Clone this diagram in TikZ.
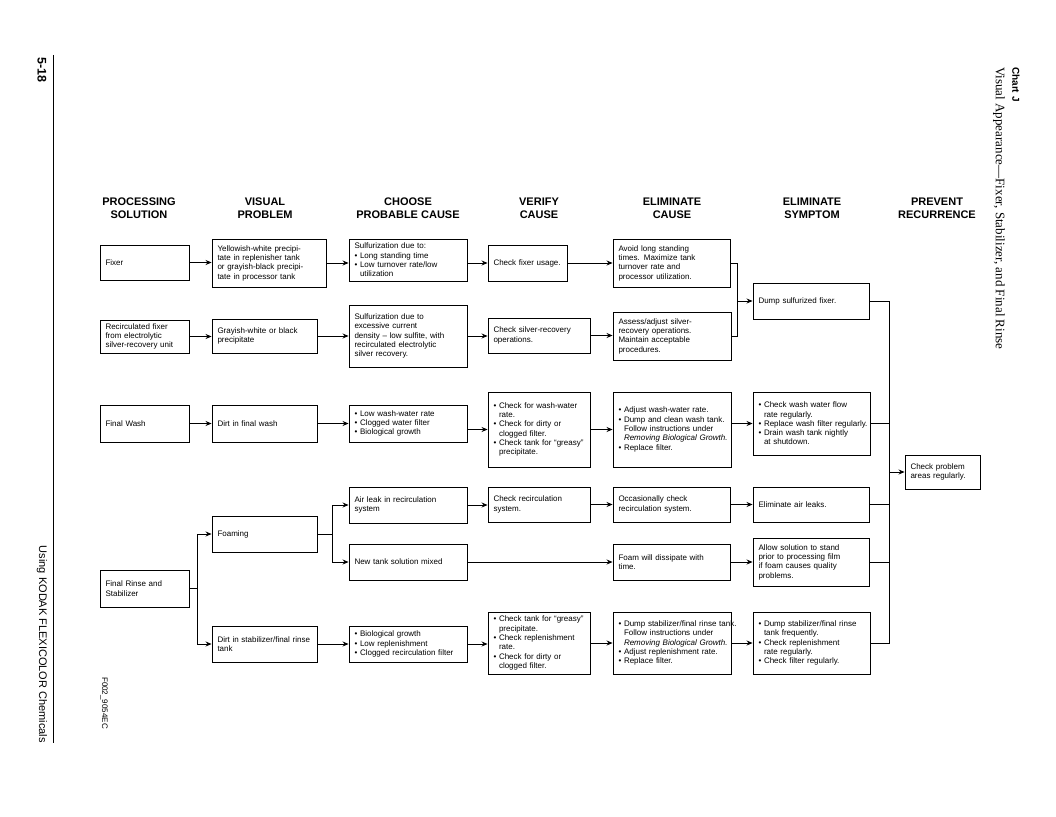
\documentclass[tikz,border=0pt]{standalone}
\usepackage{fontspec}
\setmainfont{Liberation Serif}
\setsansfont{Liberation Sans}
\usetikzlibrary{positioning, arrows.meta, calc}
\tikzstyle{hdr}=[align=center, inner sep=0pt, font=\sffamily\bfseries\fontsize{11}{13}\selectfont]
\tikzstyle{wire}=[line width=0.8pt]
\tikzset{box/.style={draw, line width=0.9pt, text width=#1-11pt, inner xsep=5.5pt, inner ysep=1pt,
  align=left, font=\sffamily\fontsize{8}{9.3}\selectfont,
  execute at begin node={\rightskip=-30pt plus 1fil\relax}}}
\tikzset{>={Stealth[length=6pt,width=5pt]}}
\newcommand{\bull}{\makebox[5.5pt][l]{\textbullet}}
\newcommand{\indt}{\hspace*{5.5pt}}

\begin{document}
\begin{tikzpicture}[x=1pt, y=-1pt]
\useasboundingbox (0,0) rectangle (1056,816);

% page margins
\node[rotate=-90, anchor=west, inner sep=0pt, font=\sffamily\bfseries\fontsize{12.5}{14}\selectfont] (pg) at (42,57) {5-18};
\draw[line width=0.6pt] (53,55) -- (53,743);
\node[rotate=-90, anchor=east, inner sep=0pt, font=\sffamily\fontsize{11}{13}\selectfont] (bk) at (42,743) {Using KODAK FLEXICOLOR Chemicals};
\node[rotate=-90, anchor=west, inner sep=0pt, font=\sffamily\fontsize{8}{9}\selectfont] (fig) at (104,677) {F002\_9054EC};
\node[rotate=-90, anchor=west, inner sep=0pt, font=\sffamily\bfseries\fontsize{10}{12}\selectfont] (ch) at (1016,67) {Chart J};
\node[rotate=-90, anchor=west, inner sep=0pt, font=\rmfamily\fontsize{13}{15}\selectfont] (ttl) at (999,67) {Visual Appearance—Fixer, Stabilizer, and Final Rinse};

% column heads
\foreach \x/\t [count=\i] in {139/{PROCESSING\\SOLUTION}, 265/{VISUAL\\PROBLEM}, 408/{CHOOSE\\PROBABLE CAUSE},
  539/{VERIFY\\CAUSE}, 672/{ELIMINATE\\CAUSE}, 812/{ELIMINATE\\SYMPTOM}, 937/{PREVENT\\RECURRENCE}}
{
\node[hdr] (hd\i) at (\x,208) {\t};
}

% processing solution
\node[box=89, minimum height=35] (fx) at (144.5,262.5) {Fixer};
\node[box=89, minimum height=33] (rf) at (144.5,336.5) {Recirculated fixer\\from electrolytic\\silver-recovery unit};
\node[box=89, minimum height=37] (fw) at (144.5,423.5) {Final Wash};
\node[box=89, minimum height=37] (fr) at (144.5,588.5) {Final Rinse and\\Stabilizer};

% visual problem
\node[box=114, minimum height=48] (yw) at (269,263) {Yellowish-white precipi-\\tate in replenisher tank\\or grayish-black precipi-\\tate in processor tank};
\node[box=105, minimum height=34] (gw) at (264.5,336) {Grayish-white or black\\precipitate};
\node[box=105, minimum height=37] (dw) at (264.5,423.5) {Dirt in final wash};
\node[box=105, minimum height=36] (fo) at (264.5,534) {Foaming};
\node[box=105, minimum height=36] (ds) at (264.5,644) {Dirt in stabilizer/final rinse\\tank};

% probable cause
\node[box=118, minimum height=42] (c1) at (408,260) {Sulfurization due to:\\\bull Long standing time\\\bull Low turnover rate/low\\\indt utilization};
\node[box=118, minimum height=62] (c2) at (408,336) {Sulfurization due to\\excessive current\\density -- low sulfite, with\\recirculated electrolytic\\silver recovery.};
\node[box=118, minimum height=37] (c3) at (408,423.5) {\bull Low wash-water rate\\\bull Clogged water filter\\\bull Biological growth};
\node[box=118, minimum height=36] (c4) at (408,505) {Air leak in recirculation\\system};
\node[box=118, minimum height=36] (c5) at (408,562) {New tank solution mixed};
\node[box=118, minimum height=36] (c6) at (408,644) {\bull Biological growth\\\bull Low replenishment\\\bull Clogged recirculation filter};

% verify cause
\node[box=79, minimum height=36] (v1) at (527.5,263) {Check fixer usage.};
\node[box=102, minimum height=35] (v2) at (539,335.5) {Check silver-recovery\\operations.};
\node[box=102, minimum height=75] (v3) at (539,429.5) {\bull Check for wash-water\\\indt rate.\\\bull Check for dirty or\\\indt clogged filter.\\\bull Check tank for ``greasy''\\\indt precipitate.};
\node[box=102, minimum height=35] (v4) at (539,504.5) {Check recirculation\\system.};
\node[box=102, minimum height=62] (v6) at (539,643) {\bull Check tank for ``greasy''\\\indt precipitate.\\\bull Check replenishment\\\indt rate.\\\bull Check for dirty or\\\indt clogged filter.};

% eliminate cause
\node[box=117, minimum height=48] (e1) at (671.5,263) {Avoid long standing\\times. Maximize tank\\turnover rate and\\processor utilization.};
\node[box=118, minimum height=48] (e2) at (672,336) {Assess/adjust silver-\\recovery operations.\\Maintain acceptable\\procedures.};
\node[box=118, minimum height=75] (e3) at (672,429.5) {\bull Adjust wash-water rate.\\\bull Dump and clean wash tank.\\\indt Follow instructions under\\\indt\textit{Removing Biological Growth.}\\\bull Replace filter.};
\node[box=117, minimum height=35] (e4) at (671.5,504.5) {Occasionally check\\recirculation system.};
\node[box=117, minimum height=36] (e5) at (671.5,562) {Foam will dissipate with\\time.};
\node[box=118, minimum height=62] (e6) at (672,643) {\bull Dump stabilizer/final rinse tank.\\\indt Follow instructions under\\\indt\textit{Removing Biological Growth.}\\\bull Adjust replenishment rate.\\\bull Replace filter.};

% eliminate symptom
\node[box=116, minimum height=36] (s1) at (811,301) {Dump sulfurized fixer.};
\node[box=117, minimum height=63] (s3) at (811.5,423.5) {\bull Check wash water flow\\\indt rate regularly.\\\bull Replace wash filter regularly.\\\bull Drain wash tank nightly\\\indt at shutdown.};
\node[box=116, minimum height=35] (s4) at (811,504.5) {Eliminate air leaks.};
\node[box=116, minimum height=48] (s5) at (811,562) {Allow solution to stand\\prior to processing film\\if foam causes quality\\problems.};
\node[box=117, minimum height=62] (s6) at (811.5,643) {\bull Dump stabilizer/final rinse\\\indt tank frequently.\\\bull Check replenishment\\\indt rate regularly.\\\bull Check filter regularly.};

% prevent recurrence
\node[box=75, minimum height=34] (pr) at (942.5,472) {Check problem\\areas regularly.};

% straight arrows along the rows
\foreach \a/\b in {fx/yw, yw/c1, v1/e1, rf/gw, gw/c2, c2/v2, v2/e2, fw/dw, dw/c3, v3/e3,
  c4/v4, v4/e4, e4/s4, c5/e5, e5/s5, ds/c6, c6/v6, v6/e6, e6/s6}
{
\draw[wire, ->] (\a) -- (\a -| \b.west);
}
\draw[wire, ->] (c1.east |- v1) -- (v1);
\draw[wire, ->] (c3.east |- v3) -- (v3);
\draw[wire, ->] (e3.east |- s3) -- (s3);

% fixer rows join
\coordinate[right=7pt of e1.east] (j1);
\draw[wire] (e1) -| (j1 |- e2) -- (e2);
\draw[wire, ->] (j1 |- s1) -- (s1);

% final rinse forks
\coordinate[right=8pt of fr.east] (k1);
\draw[wire] (fr) -- (k1);
\draw[wire, ->] (k1) |- (fo);
\draw[wire, ->] (k1) |- (ds);
\coordinate[right=15pt of fo.east] (k2);
\draw[wire] (fo) -- (k2);
\draw[wire, ->] (k2) |- (c4);
\draw[wire, ->] (k2) |- (c5);

% collecting rail
\coordinate[right=20pt of s1.east] (rail);
\draw[wire] (s1) -- (rail) -- (rail |- s6) -- (s6);
\foreach \s in {s3, s4, s5}
{
\draw[wire] (\s) -- (\s -| rail);
}
\draw[wire, ->] (rail |- pr) -- (pr);
\end{tikzpicture}
\end{document}
